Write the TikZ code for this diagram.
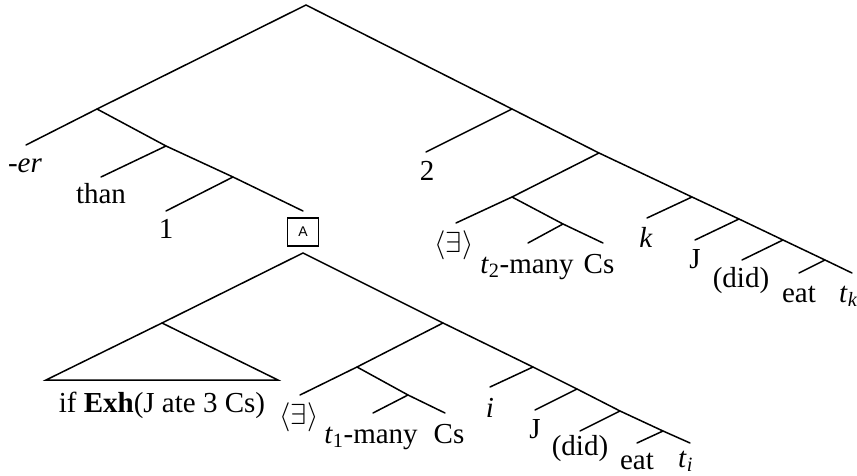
\RequirePackage{fix-cm}
\documentclass[tikz,border=0pt]{standalone}
\usepackage{fontspec}
\setmainfont{Liberation Serif}
\newfontfamily\boxfont{Liberation Sans}
\tikzset{
  branch/.style={line width=1.5pt, line cap=round},
  leaf/.style={anchor=base, inner sep=0pt, font=\fontsize{29}{34}\selectfont},
  leafw/.style={anchor=base west, inner sep=0pt, font=\fontsize{29}{34}\selectfont},
  boxlabel/.style={draw, line width=1.2pt, minimum width=31pt, minimum height=28pt, inner sep=0pt, font=\boxfont\fontsize{14}{16}\selectfont},
}
\begin{document}
\begin{tikzpicture}[x=1pt,y=-1pt]
\useasboundingbox (0,0) rectangle (857,476);
% ---------- upper tree ----------
\coordinate (R) at (306,5);
\coordinate (L1) at (97,109);
\coordinate (erE) at (26,145);
\coordinate (T) at (166,146);
\coordinate (thanE) at (101,177);
\coordinate (O) at (233,177);
\coordinate (oneE) at (166,211);
\coordinate (AE) at (303,211);
\coordinate (S) at (512,109);
\coordinate (twoE) at (426,152);
\coordinate (U) at (599,153);
\coordinate (V) at (512,197);
\coordinate (exE) at (456,223);
\coordinate (W) at (563,224);
\coordinate (tmE) at (528,243);
\coordinate (csE) at (603,243);
\coordinate (X) at (692,197);
\coordinate (kE) at (647,218);
\coordinate (Y) at (739,219);
\coordinate (jE) at (695,240);
\coordinate (Z) at (783,240);
\coordinate (didE) at (742,260);
\coordinate (Q) at (825,260);
\coordinate (eatE) at (799,273);
\coordinate (tkE) at (852,273);

\draw[branch] (erE) -- (L1) -- (R) -- (S) -- (U) -- (X) -- (Y) -- (Z) -- (Q) -- (tkE);
\draw[branch] (L1) -- (T) -- (O) -- (AE);
\draw[branch] (T) -- (thanE);
\draw[branch] (O) -- (oneE);
\draw[branch] (S) -- (twoE);
\draw[branch] (U) -- (V) -- (exE);
\draw[branch] (V) -- (W) -- (csE);
\draw[branch] (W) -- (tmE);
\draw[branch] (X) -- (kE);
\draw[branch] (Y) -- (jE);
\draw[branch] (Z) -- (didE);
\draw[branch] (Q) -- (eatE);

\node[leaf] (er) at (25,172) {\textit{-er}};
\node[leaf] (than) at (101,204) {than};
\node[leaf] (one) at (166,238) {1};
\node[boxlabel] (A) at (303,232) {A};
\node[leaf] (two) at (427,180) {2};
\node[leaf] (ex1) at (454,252) {$\langle\exists\rangle$};
\node[leaf] (tm2) at (527,273) {\textit{t}\textsubscript{2}-many};
\node[leaf] (cs2) at (599,273) {Cs};
\node[leaf] (k) at (646,247) {\textit{k}};
\node[leaf] (j1) at (695,268) {J};
\node[leaf] (did1) at (741,287) {(did)};
\node[leaf] (eat1) at (799,302) {eat};
\node[leafw] (tk) at (839,302) {\textit{t}\textsubscript{\textit{k}}};

% ---------- lower tree ----------
\coordinate (AT) at (303,253);
\coordinate (P) at (162,323);
\coordinate (PL) at (46,380);
\coordinate (PR) at (278,380);
\coordinate (B) at (443,323);
\coordinate (C) at (357,367);
\coordinate (ex2E) at (300,395);
\coordinate (D) at (408,395);
\coordinate (tm1E) at (373,413);
\coordinate (cs1E) at (445,413);
\coordinate (E) at (533,367);
\coordinate (iE) at (490,387);
\coordinate (F) at (577,389);
\coordinate (j2E) at (535,410);
\coordinate (G) at (620,411);
\coordinate (did2E) at (580,431);
\coordinate (H) at (663,431);
\coordinate (eat2E) at (637,443);
\coordinate (tiE) at (690,443);

\draw[branch] (P) -- (AT) -- (B) -- (E) -- (F) -- (G) -- (H) -- (tiE);
\draw[branch] (P) -- (PL) -- (PR) -- cycle;
\draw[branch] (B) -- (C) -- (ex2E);
\draw[branch] (C) -- (D) -- (cs1E);
\draw[branch] (D) -- (tm1E);
\draw[branch] (E) -- (iE);
\draw[branch] (F) -- (j2E);
\draw[branch] (G) -- (did2E);
\draw[branch] (H) -- (eat2E);

\node[leaf] (ifexh) at (162,412) {if \textbf{Exh}(J ate 3 Cs)};
\node[leaf] (ex2) at (299,424) {$\langle\exists\rangle$};
\node[leaf] (tm1) at (371,443) {\textit{t}\textsubscript{1}-many};
\node[leaf] (cs1) at (449,443) {Cs};
\node[leaf] (i) at (490,417) {\textit{i}};
\node[leaf] (j2) at (535,438) {J};
\node[leaf] (did2) at (580,455) {(did)};
\node[leaf] (eat2) at (637,469) {eat};
\node[leafw] (ti) at (678,467) {\textit{t}\textsubscript{\textit{i}}};
\end{tikzpicture}
\end{document}
